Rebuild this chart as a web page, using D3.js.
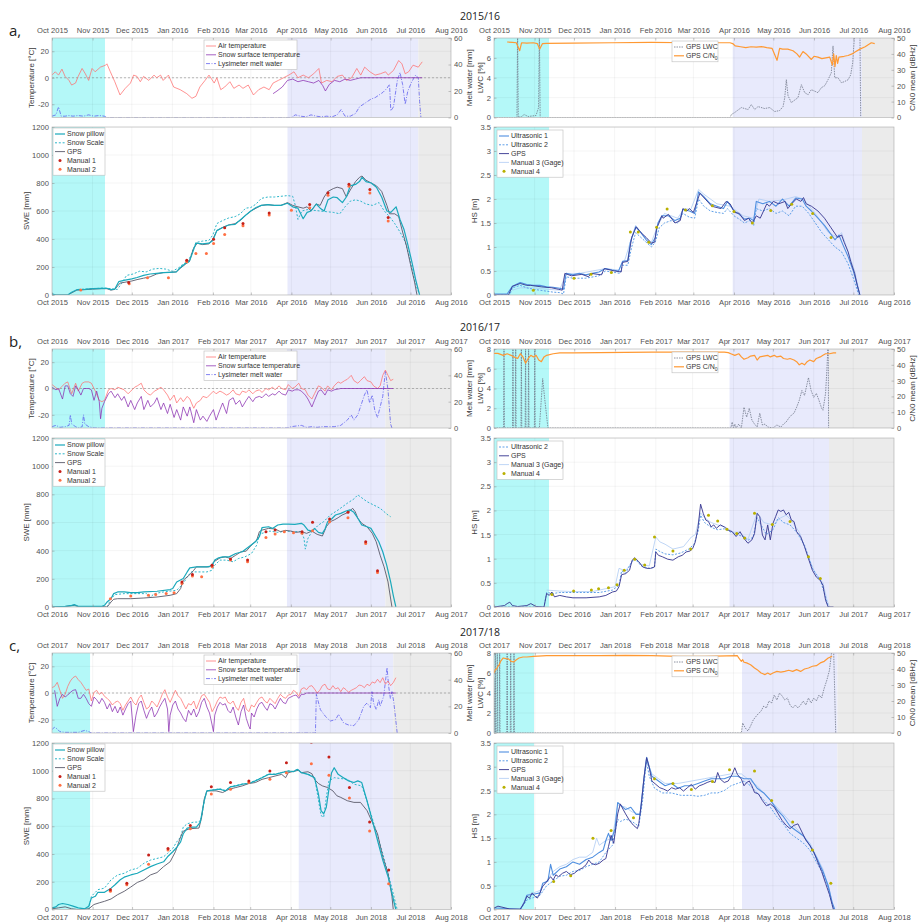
<!DOCTYPE html>
<html>
<head>
<meta charset="utf-8">
<script src="https://cdn.jsdelivr.net/npm/d3@7"></script>
<style>
body { margin: 0; background: #fff; }
text { font-family: "Liberation Sans", Arial, sans-serif; }
.tick text { font-size: 7.6px; fill: #505050; }
.tick line { stroke: #8c8c8c; stroke-width: 0.5; }
.lab { font-size: 8px; fill: #3a3a3a; }
.leg { font-size: 7px; fill: #333; }
.title { font-family: "Open Sans", sans-serif; font-size: 10.5px; fill: #222; }
.letter { font-family: "Open Sans", sans-serif; font-size: 15px; fill: #222; }
</style>
</head>
<body>
<svg id="chart" width="918" height="923"></svg>
<script>
// ---------- tick labels ----------
const months_a = ['Oct 2015','Nov 2015','Dec 2015','Jan 2016','Feb 2016','Mar 2016','Apr 2016','May 2016','Jun 2016','Jul 2016','Aug 2016']
const months_b = ['Oct 2016','Nov 2016','Dec 2016','Jan 2017','Feb 2017','Mar 2017','Apr 2017','May 2017','Jun 2017','Jul 2017','Aug 2017']
const months_c = ['Oct 2017','Nov 2017','Dec 2017','Jan 2018','Feb 2018','Mar 2018','Apr 2018','May 2018','Jun 2018','Jul 2018','Aug 2018']
const tempTicks = [-20, 0, 20]
const meltTicks = [0, 20, 40, 60]
const lwcTicks = [0, 2, 4, 6, 8]
const cn0Ticks = [0, 10, 20, 30, 40, 50]
const sweTicks = [0, 200, 400, 600, 800, 1000, 1200]
const hsTicks = [0, 0.5, 1, 1.5, 2, 2.5, 3, 3.5]

// all series: [day since 1 Oct, value]
// periods: [cyan end, lavender start, lavender end]
const shadeL_a = [40.5, 180, 280]
const shadeR_a = [42, 182, 280.6]
const shadeL_b = [40.4, 179, 254]
const shadeR_b = [41.8, 179, 254.6]
const shadeL_c = [29, 188, 260]
const shadeR_c = [30.4, 188.5, 261]

// ---------- 2015/16 ----------
const airT_a = [[0,2],[2.5,4.5],[5,2],[7.6,6.5],[10,1],[13,-2],[15,-5.5],[18,-4],[20,1],[23,7],[25.5,3],[28,-2],[30.6,7],[33,4.5],[37,8],[41,9.5],[42,10.5],[44.6,4.5],[48,-3],[52,-13],[56,-8],[60,-4],[62.4,2],[65,1],[67.5,-3],[70,1],[74,-2],[78,2],[80,0],[83,2],[85,-2],[89,2],[93,-7],[98,-9],[103,-12],[107,-15.5],[110,-14],[113,-7],[117,-2],[120,2],[124,-4],[126,0],[129,-9],[132,-7],[136,-3],[139,-8],[143,-5.5],[146,-8],[150,-5.5],[154,-13],[158,-9],[162,-7],[166,-9],[169,-4],[173,-2],[177,0],[181,2],[185,4.5],[188,0],[192,2],[196,0],[200,3],[204,7],[206,-4],[210,-2],[214,-3],[218,1],[222,2],[225,-2],[229,0],[233,7],[236,2],[239,8],[243,4.5],[247,2],[251,3],[255,4.5],[257,2],[261,5.5],[265,13],[267.5,10.5],[270,3],[272.6,4.5],[276,9.5],[280,8],[283,12]]
const surfT_a = [[169,-12],[172,-10],[176,-7],[180,-2],[184,-1],[188,-3],[192,-2],[196,-3],[200,-4],[204,-2],[207,-6],[209,-10],[212,-5],[216,-2],[220,-3],[224,-1],[228,-2],[232,-1],[236,0],[283,0]]
const lys_a = [[0,1],[3,2],[5,8],[7,1],[10,1],[13,1.5],[16,1],[20,1.5],[24,1],[28,2],[32,1],[36,1.5],[40,1],[42,0],[183,0],[186,2],[190,1],[194,0.5],[198,2],[202,1],[206,0.5],[210,1],[214,0.5],[218,2],[221,6],[224,1],[228,1],[232,3],[235,8],[238,10],[241,12],[244,14],[247,15],[250,17],[253,19],[256,22],[258,25],[259,5],[261,8],[264,28],[266,34],[268,25],[270,10],[272,20],[275,27],[278,32],[280,30],[281,12],[282,0]]
const lwc_a = [[0,0],[17.5,0],[18,9],[18.5,0],[21,0.1],[23,0.3],[26,0.1],[32,0.2],[34,1],[34.6,9],[35.2,0],[40,0],[180,0],[181,0.3],[183.5,0.5],[188.6,1.0],[193.7,0.8],[196.2,1.3],[198.8,0.8],[201.3,1.1],[206.4,0.9],[210.2,1.0],[214,0.6],[217.8,0.7],[220.4,1.1],[221.7,2.0],[222.9,3.8],[224.2,2.2],[226.7,1.5],[231.8,2.0],[234.4,3.3],[236.9,2.5],[239.5,2.3],[242,2.8],[247,2.5],[249.6,3.0],[252.2,3.2],[254.7,3.8],[257.2,4.5],[258.5,7.2],[259.8,4],[262.3,4.0],[264.9,3.5],[267,3.6],[270,3.8],[272,4.3],[273.5,5.5],[275,8.5],[279,9],[279.6,0]]
const cn0_a = [[10,47.5],[14,47.3],[17,47],[19.6,42],[21,47],[25,46.8],[30,47],[33,46.5],[34.8,43],[37,46.5],[40,46.6],[60,46.8],[90,47],[120,47.2],[150,47],[180,47],[182,46.5],[184,45],[188,44.5],[192,44],[196,44.5],[200,44.3],[204,44.6],[208,44],[212,43.5],[215.8,36],[217.8,43.5],[220,43],[224,43],[228,42],[231,40],[233,38],[235.6,41.5],[238,40],[242,36.5],[244,38.5],[247,38],[250,37],[253,37.5],[256,38],[258,33],[259,40],[260,32],[261,39],[262,34],[263,38],[267,38.5],[270,39],[273,40],[275,41],[279,43],[283,44.5],[287.7,47],[290.3,46.5]]
const pillow_a = [[0,8],[3,0],[12,0],[15,20],[19,38],[25,40],[31,45],[38,48],[42,48],[45,38],[48,42],[51,95],[55,105],[61,115],[65,125],[70,140],[75,150],[80,155],[85,160],[90,162],[95,165],[98,195],[102,225],[105,240],[107,290],[110,370],[115,365],[120,370],[123,390],[126,460],[130,480],[135,500],[140,505],[145,545],[148,570],[152,600],[156,625],[160,640],[165,645],[170,640],[175,640],[180,655],[184,630],[188,620],[192,545],[195,590],[198,600],[202,650],[205,620],[208,600],[211,680],[215,700],[218,695],[222,660],[225,700],[228,780],[232,790],[235,810],[237,840],[240,810],[244,800],[248,770],[252,700],[256,600],[259,590],[263,630],[266,540],[269,470],[272,360],[275,240],[278,110],[281,0]]
const scale_a = [[20,40],[31,45],[40,50],[45,45],[50,40],[53,80],[57,140],[62,150],[67,170],[72,165],[77,185],[82,190],[87,185],[92,170],[97,195],[100,220],[104,240],[107,300],[110,375],[115,385],[120,390],[123,430],[126,510],[130,530],[135,550],[140,560],[144,580],[148,620],[152,625],[156,650],[160,690],[165,700],[170,700],[175,705],[180,710],[184,705],[186,640],[188,540],[191,600],[195,610],[200,605],[205,600],[210,595],[215,590],[220,580],[224,630],[228,670],[232,680],[236,670],[240,650],[245,640],[250,660],[254,600],[258,560],[262,510],[266,450],[270,380],[273,280],[276,150],[279,50],[281,0]]
const gpsSwe_a = [[0,5],[3,0],[12,0],[15,15],[19,35],[25,38],[31,42],[38,45],[42,45],[45,35],[48,40],[52,85],[58,95],[61,100],[65,110],[70,120],[75,130],[80,150],[85,160],[90,162],[95,165],[98,190],[102,220],[105,240],[108,330],[111,370],[115,360],[120,365],[123,400],[126,460],[130,480],[135,500],[140,510],[145,540],[148,570],[152,600],[156,620],[160,640],[165,645],[170,640],[175,640],[180,660],[184,640],[188,630],[192,620],[195,630],[198,600],[202,650],[205,640],[208,700],[211,740],[215,760],[218,770],[222,760],[225,700],[228,750],[232,810],[235,840],[237,850],[240,820],[244,800],[248,780],[252,740],[256,640],[258,580],[262,580],[265,560],[268,450],[271,350],[274,220],[277,100],[279,0]]
const man1_a = [[58.6,90],[103,249],[123.5,399],[132,480],[146,510],[166,586],[197,646],[211,731],[227,791],[243,753],[257,553]]
const man2_a = [[22,36],[59,80],[73,123],[89,123],[103,238],[110,297],[118,297],[123.5,368],[132,432],[146,494],[166,572],[183,605],[197,624],[211,712],[227,776],[243,729],[257,529]]
const us1_a = [[0,0.02],[10,0.02],[14,0.18],[20,0.26],[25,0.22],[30,0.2],[35,0.2],[40,0.17],[45,0.16],[50,0.14],[53,0.12],[55,0.45],[60,0.42],[65,0.45],[70,0.42],[75,0.45],[80,0.48],[85,0.55],[90,0.52],[95,0.5],[98,0.7],[102,0.72],[104,1.1],[108,1.42],[112,1.3],[116,1.15],[120,1.05],[123,1.2],[125,1.5],[128,1.65],[133,1.65],[138,1.55],[142,1.6],[144,1.78],[149,1.75],[153,1.7],[156,2.15],[160,2.05],[165,1.9],[170,1.85],[175,1.8],[178,1.95],[183,1.75],[187,1.68],[191,1.58],[195,1.6],[198,1.55],[200,1.95],[205,1.9],[210,1.95],[215,1.85],[220,2.0],[225,1.85],[230,2.02],[235,2.0],[238,1.85],[242,1.75],[247,1.6],[252,1.45],[256,1.3],[260,1.15],[263,1.25],[266,1.05],[270,0.8],[274,0.5],[277,0.2],[279,0]]
const us2_a = [[0,0],[12,0],[14,0.15],[20,0.2],[25,0.15],[30,0.12],[35,0.1],[40,0.08],[45,0.06],[50,0.05],[53,0.02],[55,0.38],[60,0.35],[70,0.35],[80,0.4],[85,0.5],[90,0.48],[96,0.45],[98,0.62],[102,0.62],[105,1.0],[108,1.3],[112,1.2],[116,1.1],[120,1.0],[123,1.1],[126,1.4],[130,1.5],[135,1.55],[140,1.5],[144,1.7],[149,1.62],[153,1.6],[156,2.0],[160,1.85],[165,1.75],[170,1.72],[175,1.7],[178,1.8],[183,1.65],[187,1.58],[191,1.5],[195,1.55],[198,1.45],[200,1.8],[205,1.75],[210,1.8],[215,1.7],[220,1.75],[225,1.65],[230,1.85],[235,1.85],[240,1.7],[245,1.5],[250,1.3],[255,1.15],[260,1.0],[265,0.9],[270,0.65],[274,0.35],[277,0.1],[278,0]]
const gpsHs_a = [[0,0],[11,0],[14,0.18],[20,0.24],[25,0.2],[28,0.2],[36,0.17],[44,0.15],[49,0.12],[52,0.1],[54,0.45],[59,0.4],[67,0.43],[72,0.38],[74,0.45],[82,0.42],[84,0.55],[89,0.52],[92,0.5],[97,0.48],[98,0.68],[102,0.7],[105,1.2],[108.5,1.42],[112,1.3],[116,1.2],[120,1.08],[122.5,1.1],[124,1.4],[125,1.45],[128,1.65],[129,1.6],[133,1.68],[138,1.5],[142,1.55],[144,1.8],[147,1.75],[149,1.8],[152,1.72],[157,2.12],[161,2.0],[166,1.85],[173,1.8],[177,1.95],[180,1.9],[183.5,1.72],[187,1.7],[191,1.55],[194,1.6],[197,1.5],[200,1.65],[203,1.6],[208,1.9],[210,1.85],[213,1.95],[217,1.9],[222,1.95],[224,1.8],[227,1.9],[230.5,2.0],[234,1.95],[236,2.03],[238,1.9],[242,1.85],[247,1.75],[252,1.6],[257,1.4],[262,1.2],[265,1.25],[267,1.1],[270,0.9],[272,0.7],[275,0.45],[277,0.2],[279,0]]
const man3_a = [[14,0.1],[20,0.15],[30,0.15],[40,0.12],[50,0.1],[55,0.45],[65,0.45],[75,0.5],[85,0.55],[95,0.52],[100,0.75],[105,1.2],[108,1.45],[115,1.2],[120,1.1],[125,1.45],[130,1.7],[140,1.6],[145,1.8],[150,1.78],[156,2.2],[160,2.1],[170,1.9],[180,1.85],[190,1.65],[198,1.6],[202,2.0],[210,1.95],[220,1.98],[230,2.05],[236,2.0],[245,1.7],[255,1.3],[262,1.2],[265,1.3],[270,0.9],[275,0.5],[279,0]]
const man4_a = [[30,0.1],[61,0.35],[74,0.43],[89.5,0.47],[104,1.31],[110,1.31],[118,1.1],[124,1.41],[132,1.79],[146,1.77],[166.5,1.86],[183,1.74],[197,1.5],[211,1.76],[227,1.89],[243,1.7],[257,1.2]]

// ---------- 2016/17 ----------
const airT_b = [[0,3],[5,-1],[10,4],[12,5],[15,-4],[18,4],[20,-2],[23,4],[25,5],[28,5],[30,4],[33,-2],[36,-9],[38,-10],[40,-9],[43,-1],[45,0],[48,-1],[50,1],[55,-1],[58,-4],[60,-2],[63,1],[65,2],[68,4],[70,-1],[73,-4],[75,-5],[78,-2],[80,-1],[83,1],[85,-1],[88,-5],[90,-9],[93,-5],[95,-11],[98,-7],[100,-10],[103,-6],[105,-8],[108,-15],[110,-11],[113,-9],[115,-6],[118,-7],[120,-5],[123,-2],[125,-4],[128,-2],[130,-3],[133,-5],[135,-4],[138,-1],[140,-4],[143,-5],[145,-2],[148,-3],[150,-1],[153,-4],[155,-2],[158,-1],[160,-3],[163,0],[165,-1],[168,1],[170,-1],[173,2],[175,0],[178,-1],[180,3],[183,0],[185,1],[188,4],[190,0],[193,-1],[195,-5],[198,-8],[200,-4],[203,2],[205,1],[208,-2],[210,2],[213,-1],[215,2],[218,5],[220,4],[223,6],[225,7],[228,10],[230,6],[233,4],[235,6],[238,9],[240,6],[243,5],[245,2],[248,0],[250,2],[252,10],[254,14],[256,10],[258,6],[260,7]]
const surfT_b = [[0,1],[3,-1],[5,0],[8,-8],[10,2],[12,2],[14,-4],[16,-6],[18,2],[20,-1],[22,-5],[24,0],[26,0],[28,0],[30,-1],[32,-9],[34,-2],[36,-10],[37,-23],[38,-15],[40,-10],[43,-4],[45,-2],[48,-7],[50,-4],[53,-9],[55,-6],[58,-14],[60,-9],[63,-16],[65,-11],[68,-6],[70,-16],[73,-9],[75,-14],[78,-11],[80,-7],[83,-16],[85,-11],[88,-19],[90,-12],[93,-22],[95,-16],[98,-24],[100,-14],[103,-21],[105,-14],[108,-26],[110,-16],[113,-24],[115,-21],[118,-25],[120,-21],[123,-16],[125,-24],[128,-16],[130,-11],[133,-19],[135,-9],[138,-7],[140,-12],[143,-9],[145,-14],[148,-9],[150,-6],[153,-10],[155,-7],[158,-6],[160,-7],[163,-4],[165,-6],[168,-4],[170,-5],[173,-2],[175,-4],[178,-5],[180,-1],[183,-2],[185,-1],[188,-1],[190,-2],[193,-5],[195,-8],[198,-14],[200,-9],[203,-2],[205,-1],[208,-5],[210,-1],[213,-2],[215,-1],[220,0],[260,0]]
const lys_b = [[0,1],[3,2],[6,0.5],[10,1],[13,2],[14,10],[15,3],[18,1],[20,0],[23,1],[24,10],[25,3],[28,1],[32,0],[180,0],[182,1],[186,1.5],[190,2],[194,0.5],[198,1],[202,0.5],[206,1],[210,1],[215,1],[220,2],[225,6],[228,10],[230,6],[233,10],[235,16],[238,25],[240,29],[242,19],[244,25],[246,13],[248,8],[250,16],[252,24],[254,43],[256,29],[258,3],[259,0]]
const lwc_b = [[0,0],[7.3,0],[7.6,9],[7.9,0],[14.1,0],[14.4,9],[14.7,0],[16.2,0],[16.5,9],[16.8,0],[20.5,0],[20.8,9],[21.1,0],[23.7,0],[24,9],[24.3,0],[26,0],[26.3,9],[26.6,0],[30.7,0],[31,9],[31.3,0],[34.5,0],[36,3],[37,5],[38.5,3],[41,0],[180,0],[181,0.6],[182,0],[183,0.4],[184,0],[186,0.4],[188,0],[190,2.1],[192,1.1],[194,2.0],[196,0.8],[198,0.4],[200,0.1],[202,1.5],[204,0.3],[206,0.4],[208,0.1],[212,0],[215,0.3],[218,0.1],[220,0.4],[222,0.6],[224,1],[226,1.3],[228,1.5],[230,2.1],[232,2.8],[234,3.8],[236,3.3],[238,4.5],[239,5.1],[241,3.8],[243,3.1],[245,3.5],[247,2.8],[249,2.0],[250,1.8],[252,3.5],[253,5.9],[254,9],[254.3,0]]
const cn0_b = [[0,47.2],[3,47.2],[7,46],[10,47],[13,46],[15,45],[18,44],[20,47],[22,45],[24,41],[26,44],[28,46],[30,45],[32,46],[34,43],[36,42],[38,45],[40,46],[45,47],[50,47.5],[60,47.5],[80,47.7],[100,47.9],[120,48],[140,48],[160,48],[175,48],[178,47.7],[180,47],[183,46],[186,47],[188,45],[190,43.5],[193,44.5],[195,45.5],[198,46],[200,43],[202,45],[205,45.5],[208,46],[210,45],[213,46],[215,45],[218,45.5],[220,44],[223,43.5],[225,44],[228,43],[230,42],[232,40],[234,41],[236,40],[238,42],[240,43],[243,42],[245,44],[248,45],[250,46],[252,47],[255,47],[258,47.5],[260,47.5]]
const pillow_b = [[0,0],[10,5],[15,12],[17,17],[20,5],[30,5],[38,5],[40,12],[42,36],[45,60],[47,95],[50,107],[55,107],[60,102],[65,102],[70,107],[80,112],[90,124],[92,131],[95,178],[100,202],[103,249],[105,278],[110,285],[118,285],[122,292],[124,333],[127,349],[130,356],[135,356],[140,380],[145,392],[150,428],[155,463],[158,499],[160,563],[165,570],[168,558],[172,582],[176,589],[180,589],[185,587],[190,594],[192,582],[195,546],[198,539],[200,558],[203,530],[206,523],[208,554],[210,606],[213,625],[216,653],[220,665],[224,682],[227,690],[230,672],[233,630],[236,582],[240,570],[243,558],[246,511],[249,463],[252,392],[255,297],[258,178],[260,83],[262,0]]
const scale_b = [[42,0],[45,59],[48,88],[55,95],[65,95],[72,95],[75,71],[78,95],[85,107],[95,119],[100,166],[103,214],[106,249],[112,249],[118,249],[122,261],[124,297],[128,333],[133,333],[138,321],[142,344],[147,356],[152,380],[156,440],[158,511],[160,523],[166,539],[172,530],[178,539],[185,535],[190,535],[192,487],[193,411],[195,487],[198,535],[203,582],[207,606],[212,653],[218,689],[225,737],[230,767],[233,796],[240,748],[250,701],[256,653],[258,641]]
const gpsSwe_b = [[0,0],[10,3],[17,12],[20,3],[40,3],[42,0],[45,36],[47,55],[50,59],[60,59],[70,64],[80,71],[90,83],[95,95],[98,131],[100,190],[105,230],[108,261],[110,285],[120,285],[122,309],[124,325],[128,349],[132,356],[136,344],[140,368],[144,392],[148,397],[152,440],[156,475],[158,535],[160,546],[165,558],[170,554],[174,535],[178,544],[182,539],[186,530],[190,535],[194,523],[198,539],[202,516],[206,504],[209,570],[212,606],[215,618],[218,634],[221,653],[224,665],[227,682],[229,701],[231,677],[233,630],[236,594],[240,570],[244,523],[247,463],[250,368],[253,285],[256,178],[259,0]]
const man1_b = [[99,178],[107,230],[122,297],[136,340],[149,333],[163,535],[170,546],[190.5,535],[198.5,601],[211.5,625],[225.5,672],[239,463],[248,257]]
const man2_b = [[44.5,59],[60,78],[73.5,83],[79,88],[87,95],[93,102],[99,166],[107,221],[114,214],[122,285],[136,333],[149,321],[163,494],[170,518],[177,535],[184,528],[190.5,523],[198.5,542],[211.5,606],[225.5,634],[239,451],[248,245]]
const us2_b = [[0,0],[38,0],[40,0.3],[45,0.28],[50,0.3],[60,0.3],[70,0.3],[80,0.3],[90,0.35],[95,0.45],[97,0.75],[100,0.7],[105,0.95],[107,1.0],[112,0.85],[118,0.8],[122,0.82],[123,1.2],[126,1.15],[130,1.1],[136,1.08],[142,1.12],[148,1.2],[152,1.3],[155,1.55],[157,1.9],[160,1.75],[165,1.65],[170,1.6],[175,1.62],[180,1.55],[185,1.5],[190,1.45],[193,1.38],[197,1.45],[200,1.85],[203,1.7],[207,1.5],[212,1.6],[216,1.85],[220,1.75],[225,1.7],[230,1.55],[236,1.28],[242,0.8],[248,0.56],[252,0.2],[254,0]]
const gpsHs_b = [[0,0],[8,0.03],[10,0.07],[12,0.1],[14,0.03],[18,0.01],[25,0.03],[28,0.07],[32,0.01],[38,0],[40,0.28],[42,0.24],[44,0.31],[46,0.21],[50,0.24],[55,0.21],[60,0.19],[70,0.19],[80,0.21],[85,0.24],[90,0.31],[93,0.33],[95,0.42],[97,0.67],[100,0.69],[103,0.76],[105,0.97],[107,1.02],[110,0.94],[113,0.83],[116,0.8],[119,0.8],[122,0.83],[123,1.14],[125,1.07],[128,1.04],[132,0.99],[136,0.97],[140,1.04],[143,1.07],[146,1.14],[149,1.16],[151,1.21],[153,1.35],[155,1.63],[157,2.13],[159,1.94],[161,1.8],[163,1.77],[165,1.66],[167,1.7],[169,1.63],[172,1.7],[175,1.66],[178,1.59],[181,1.56],[184,1.46],[187,1.56],[190,1.42],[193,1.32],[196,1.39],[198,1.52],[200,1.94],[202,1.87],[204,1.49],[206,1.39],[208,1.7],[210,1.39],[212,1.73],[214,1.87],[216,2.01],[218,1.98],[220,2.01],[222,1.91],[224,1.96],[226,1.8],[228,1.77],[230,1.56],[233,1.46],[236,1.25],[239,1.0],[242,0.76],[245,0.62],[248,0.55],[250,0.45],[252,0.14],[254,0],[258,0]]
const man3_b = [[40,0.35],[50,0.33],[60,0.32],[75,0.32],[85,0.38],[92,0.42],[95,0.8],[100,0.75],[107,1.0],[112,0.88],[118,0.85],[123,1.45],[126,1.35],[130,1.3],[136,1.2],[144,1.25],[150,1.45],[153,1.5],[157,1.95],[160,1.85],[165,1.75],[170,1.7],[176,1.65],[182,1.55],[186,1.55],[193,1.4],[200,1.95],[205,1.75],[212,1.7],[218,1.85],[222,1.9],[226,1.8],[232,1.55],[238,1.1],[244,0.7],[250,0.5],[253,0.15],[255,0]]
const man4_b = [[44,0.26],[60.5,0.33],[74,0.35],[79.5,0.38],[87,0.4],[93.5,0.46],[99,0.76],[107,0.99],[114.5,0.87],[122,1.45],[136,1.16],[149.5,1.2],[163,1.9],[170,1.78],[177,1.61],[184.5,1.52],[190.5,1.43],[198,1.94],[211.5,1.71],[225,1.77],[239,1.04],[248,0.59]]

// ---------- 2017/18 ----------
const airT_c = [[0,4],[2,5],[4,8],[6,2],[8,-4],[10,-1],[12,5],[14,9],[16,11.5],[18,12.7],[20,10],[22,8],[24,5],[26,2],[28,3],[30,-6],[32,0.5],[34,2],[36,-1],[38,0.5],[40,-2.5],[42,-4],[44,-6],[46,-9],[48,-7],[50,-6],[52,-8],[54,-13],[56,-9],[58,-6],[60,-3],[62,-7],[64,-9],[66,-4],[68,-1.5],[70,-7],[72,-12],[74,-10.5],[76,-6],[78,-8],[80,-10.5],[82,-6],[84,-1],[86,2.5],[88,-3],[90,-7],[92,-2.5],[94,2],[96,-2],[98,-4],[100,-8],[102,-12],[104,-8],[106,-9],[108,-6],[110,-12],[112,-7],[114,-2],[116,-1],[118,-4],[120,-7],[122,-14],[124,-10.5],[126,-6],[128,-3],[130,-4],[132,-3],[134,-7],[136,-8],[138,-6],[140,-10.5],[142,-13],[144,-7],[146,-4],[148,-12],[150,-14],[152,-9],[154,-10.5],[156,-7],[158,-4],[160,-3],[162,-6],[164,-7.5],[166,-4],[168,-6],[170,-8],[172,-4],[174,-1],[176,-3],[178,-4],[180,-1.5],[182,-1],[184,2],[186,0.5],[188,-2.5],[190,3],[192,4],[194,2.5],[196,5],[198,5.5],[200,3],[202,0],[204,2],[206,5.5],[208,6.6],[210,3],[212,2.5],[214,5.5],[216,3],[218,4],[220,1],[222,4],[224,2.5],[226,0.5],[228,2],[230,3],[232,4],[234,6],[236,5.5],[238,4],[240,6.6],[242,5.5],[244,8.3],[246,7.4],[248,10.3],[250,7.8],[252,11.5],[254,6.6],[256,9],[258,5.5],[260,7.8],[262,11.5]]
const surfT_c = [[2,2],[4,-10],[6,-4],[8,-1],[10,-3],[12,-1.5],[14,0.5],[16,2],[18,2.5],[20,-4],[22,-4],[24,-1],[26,-4],[28,-8],[30,-10],[32,-3],[34,-5],[36,-8],[38,-4],[40,-7],[42,-12],[44,-8],[46,-14],[48,-10],[50,-15],[52,-10.5],[54,-16.6],[56,-12],[58,-8],[60,-6],[62,-29],[64,-16.6],[66,-8],[68,-6],[70,-13],[72,-19],[74,-14],[76,-10.5],[78,-18],[80,-15],[82,-10.5],[84,-7],[86,-4],[88,-12],[89,-29],[90,-16.6],[92,-9],[94,-6],[96,-12],[98,-15],[100,-19],[102,-21.5],[104,-13],[106,-16.6],[108,-12],[110,-18],[112,-14],[114,-7],[116,-4],[118,-10.5],[120,-15],[122,-24],[123,-29],[124,-16.6],[126,-10.5],[128,-7],[130,-9],[132,-8],[134,-13],[136,-15],[138,-10.5],[140,-18],[142,-24],[144,-14],[146,-9],[148,-19],[150,-25],[151,-27],[152,-15],[154,-18],[156,-12],[158,-8],[160,-7],[162,-10.5],[164,-13],[166,-8],[168,-9],[170,-12],[172,-8],[174,-4],[176,-7],[178,-8],[180,-4],[182,-3],[184,-2],[186,-1.5],[188,-4],[190,-1],[192,-1],[194,0],[262,0]]
const lys_c = [[0,2.5],[2,4.5],[4,3],[6,1],[10,0.5],[20,0.5],[25,2],[28,1],[30,0],[200,0],[200.7,0],[201.4,29],[204.5,17.5],[208.3,12.5],[212,9],[216,10],[218.4,14],[222.2,7.5],[226,6],[230,5.5],[233.7,10],[236,16],[237.5,20],[240,22.5],[242.6,19],[243.8,31],[245,22.5],[247,17.5],[249,25],[250,20],[252.7,27.5],[255.3,49],[256.5,35],[257.8,26],[259,31],[260.3,24],[261.6,12.5],[263,0]]
const lwc_c = [[0,5.5],[0.7,0],[1,9],[1.3,0],[2.2,0],[2.5,9],[2.8,0],[4,0],[4.3,9],[4.6,0],[9.7,0],[10,9],[10.3,0],[12.4,0],[12.7,9],[13,0],[14.9,0],[15.2,9],[15.5,0],[30,0],[188,0],[189,1],[191,0.5],[193,0.2],[195,0.7],[197,1.3],[200,1.8],[203,2.2],[205,2.7],[207,2.5],[209,3.2],[211,3.0],[213,3.8],[215,3.3],[217,4.0],[219,3.7],[221,3.3],[223,3.5],[225,2.8],[227,2.5],[229,2.8],[231,2.5],[233,2.8],[235,3.2],[237,2.8],[239,3.5],[241,3.0],[243,3.5],[245,3.2],[247,3.8],[249,3.5],[251,4.5],[253,5.3],[255,6.3],[256,7.5],[257,8.5],[258,9],[259.7,0]]
const cn0_c = [[0,37.5],[1,39.6],[2,40],[3,41.7],[4,42.7],[5,44.8],[7,46.9],[9,46.5],[11,46.3],[13,44.8],[15,44.4],[17,45.8],[19,46.9],[22,47.5],[25,47.5],[30,47.9],[40,48.3],[60,48.3],[80,48.3],[100,48.5],[120,48.3],[140,47.9],[160,47.9],[185,48.3],[186,46.9],[188,44.8],[189,45.8],[190,44.2],[192,43.8],[195,42.7],[198,40.6],[200,39.6],[203,37.5],[206,36.5],[208,37.5],[210,36.5],[212,37.5],[215,38.5],[218,38.1],[221,38.5],[224,39.2],[227,38.5],[230,39.6],[233,38.5],[236,40],[239,40.6],[242,41.7],[245,42.1],[248,43.8],[251,44.8],[254,46.9],[257,47.9]]
const pillow_c = [[0,12],[3,19],[5,36],[8,43],[12,36],[16,24],[20,12],[25,5],[28,24],[30,83],[33,95],[35,124],[40,124],[45,154],[48,178],[52,214],[55,233],[60,249],[65,261],[70,285],[75,309],[80,328],[85,344],[88,380],[92,416],[95,447],[98,487],[100,546],[103,587],[107,594],[110,594],[113,630],[116,784],[118,855],[122,860],[128,867],[132,855],[136,884],[140,891],[145,903],[150,908],[155,927],[160,950],[165,974],[170,974],[175,986],[180,998],[184,993],[187,1010],[190,986],[195,974],[200,950],[203,832],[205,713],[207,689],[209,737],[211,867],[213,986],[215,1022],[218,974],[222,950],[226,927],[230,915],[233,927],[236,915],[240,784],[244,642],[248,499],[252,356],[256,238],[259,119],[261,36],[262,0]]
const scale_c = [[28,0],[30,95],[35,143],[40,154],[45,214],[50,249],[55,261],[60,285],[65,297],[70,333],[75,356],[80,368],[85,380],[88,404],[92,440],[95,487],[98,523],[100,594],[103,618],[108,630],[112,630],[114,665],[116,784],[118,855],[120,858],[128,870],[132,858],[136,886],[140,893],[145,905],[150,910],[155,930],[160,952],[165,976],[170,976],[175,988],[180,1000],[184,995],[187,1012],[190,988],[195,976],[200,955],[205,677],[207,665],[209,808],[211,927],[215,950],[225,938],[230,903],[236,891],[240,784],[246,594],[252,404],[258,190],[263,0]]
const gpsSwe_c = [[0,5],[5,12],[10,19],[15,5],[20,0],[28,5],[32,36],[36,48],[40,59],[45,76],[50,107],[55,131],[60,162],[65,195],[70,214],[75,249],[80,266],[85,309],[90,344],[94,416],[98,523],[100,565],[105,582],[112,587],[114,665],[116,796],[118,855],[125,855],[130,843],[135,867],[140,879],[145,891],[150,908],[155,915],[160,938],[165,950],[170,962],[175,974],[178,950],[180,986],[185,998],[188,1003],[190,986],[195,993],[198,979],[200,938],[203,908],[206,891],[210,879],[214,855],[217,820],[220,808],[225,784],[230,772],[235,772],[240,713],[244,630],[248,546],[252,380],[256,261],[259,95],[260,0]]
const man1_c = [[44.5,143],[57,190],[73.6,392],[88.4,440],[105.4,606],[121.4,884],[136,915],[150,927],[166,998],[178.6,1057],[197.6,1205],[211,1100],[226.6,879],[242,630],[256.5,285]]
const man2_c = [[44.5,131],[57,178],[73.6,326],[88.4,428],[105.4,582],[121.4,832],[136,867],[150,915],[166,938],[178.6,986],[197.6,1050],[211,967],[226.6,803],[242,565],[256.5,185]]
const us1_c = [[0,0.03],[10,0.02],[20,0],[23,0.15],[25,0.3],[30,0.32],[35,0.35],[37,0.55],[41,0.6],[43,0.95],[45,0.72],[50,0.85],[55,0.9],[60,1.0],[65,0.95],[70,1.05],[75,1.1],[80,1.2],[83,1.25],[85,1.45],[87,1.6],[89,1.45],[92,1.7],[94,2.25],[96,2.2],[100,2.1],[104,2.15],[108,2.0],[111,2.0],[113,2.5],[115,3.0],[116,3.2],[118,3.0],[120,2.8],[125,2.7],[130,2.6],[135,2.65],[140,2.55],[145,2.6],[150,2.6],[155,2.65],[160,2.7],[165,2.75],[170,2.75],[175,2.75],[180,2.8],[185,2.8],[190,2.75],[195,2.75],[200,2.55],[205,2.45],[210,2.3],[215,2.1],[220,1.95],[225,1.75],[230,1.65],[235,1.55],[240,1.35],[245,1.1],[250,0.8],[254,0.5],[257,0.15],[259,0]]
const us2_c = [[20,0],[25,0.2],[30,0.25],[35,0.3],[40,0.5],[45,0.6],[50,0.7],[55,0.72],[60,0.8],[65,0.82],[70,0.9],[75,0.95],[80,1.0],[85,1.2],[90,1.35],[94,1.9],[96,1.85],[100,1.9],[105,1.85],[110,1.75],[113,2.3],[115,2.9],[116,3.1],[118,2.8],[122,2.55],[128,2.45],[135,2.45],[142,2.4],[150,2.4],[155,2.38],[160,2.4],[165,2.45],[170,2.45],[175,2.5],[180,2.6],[185,2.65],[190,2.7],[195,2.6],[200,2.45],[205,2.3],[210,2.15],[215,1.95],[220,1.8],[225,1.6],[230,1.5],[235,1.4],[240,1.25],[245,1.0],[250,0.75],[254,0.45],[257,0.1],[258,0]]
const gpsHs_c = [[0,0.03],[3,0.07],[6,0.05],[9,0.03],[12,0.01],[20,0.01],[23,0.14],[25,0.28],[27,0.24],[29,0.35],[31,0.28],[33,0.24],[35,0.35],[37,0.49],[39,0.55],[41,0.62],[43,0.69],[45,0.62],[47,0.73],[49,0.69],[52,0.76],[55,0.8],[58,0.73],[61,0.76],[64,0.83],[67,0.87],[70,0.94],[72,1.04],[74,0.97],[77,0.94],[80,0.97],[83,1.04],[85,1.07],[87,1.32],[89,1.56],[91,1.39],[94,2.01],[96,2.22],[98,2.11],[100,2.01],[103,1.87],[106,1.77],[109,1.7],[110,1.8],[112,2.22],[114,2.77],[116,3.19],[118,2.98],[120,2.7],[123,2.63],[126,2.56],[129,2.53],[132,2.49],[135,2.56],[138,2.53],[141,2.56],[144,2.49],[147,2.56],[150,2.63],[153,2.53],[156,2.6],[159,2.63],[162,2.67],[165,2.7],[168,2.67],[170,2.88],[172,2.74],[175,2.67],[178,2.7],[181,2.84],[183,2.98],[185,2.84],[188,2.74],[190,2.6],[192,2.67],[194,2.7],[196,2.6],[198,2.46],[201,2.43],[204,2.29],[207,2.18],[210,2.22],[213,2.15],[216,2.01],[219,1.87],[222,1.77],[225,1.7],[228,1.77],[231,1.8],[234,1.63],[237,1.46],[240,1.35],[243,1.21],[246,1.0],[249,0.8],[252,0.55],[255,0.31],[257,0.1],[258,0]]
const man3_c = [[20,0],[25,0.3],[30,0.35],[35,0.4],[40,0.6],[45,0.8],[50,0.9],[55,0.95],[60,1.05],[65,1.1],[70,1.1],[75,1.2],[78,1.5],[80,1.35],[85,1.45],[90,1.5],[94,2.2],[100,2.15],[105,2.05],[111,2.0],[114,2.8],[116,3.15],[120,2.85],[125,2.75],[130,2.65],[140,2.65],[150,2.7],[160,2.75],[170,2.8],[180,2.85],[188,2.85],[195,2.7],[200,2.6],[210,2.3],[220,2.0],[230,1.7],[240,1.4],[250,0.85],[255,0.4],[258,0]]
const man4_c = [[45.3,0.59],[58.3,0.71],[75.2,1.5],[89,1.66],[106,1.93],[122,2.75],[136,2.65],[150,2.52],[166,2.69],[179,2.94],[198,2.91],[211,2.29],[227,1.84],[242,1.25],[256,0.55]]

// ---------- styles ----------
const st = {
  airT:   { color: '#ff6f6f', width: 0.75 },
  surfT:  { color: '#8a2db0', width: 0.75 },
  lys:    { color: '#5a5aee', width: 0.75, dash: '4,1.5,1,1.5' },
  lwc:    { color: '#6e7688', width: 0.8, dash: '1.5,1' },
  cn0:    { color: '#ff9933', width: 1.2 },
  pillow: { color: '#1aa9bb', width: 1.2 },
  scale:  { color: '#2cb6c9', width: 1, dash: '2,1.8' },
  gpsSwe: { color: '#5a5a6a', width: 0.9 },
  man1:   { color: '#c62019', dot: true },
  man2:   { color: '#ff7043', dot: true },
  us1:    { color: '#4f8fe0', width: 1.1 },
  us2:    { color: '#5f9fe8', width: 1, dash: '2,1.5' },
  gpsHs:  { color: '#3d3d95', width: 0.95 },
  man3:   { color: '#aecbf4', width: 0.8 },
  man4:   { color: '#b9b000', dot: true }
}

const seasons = [
  { title: '2015/16', letter: 'a,', year: 2015, months: months_a, shadeL: shadeL_a, shadeR: shadeR_a,
    airT: airT_a, surfT: surfT_a, lys: lys_a, lwc: lwc_a, cn0: cn0_a,
    pillow: pillow_a, scale: scale_a, gpsSwe: gpsSwe_a, man1: man1_a, man2: man2_a,
    us1: us1_a, us2: us2_a, gpsHs: gpsHs_a, man3: man3_a, man4: man4_a },
  { title: '2016/17', letter: 'b,', year: 2016, months: months_b, shadeL: shadeL_b, shadeR: shadeR_b,
    airT: airT_b, surfT: surfT_b, lys: lys_b, lwc: lwc_b, cn0: cn0_b,
    pillow: pillow_b, scale: scale_b, gpsSwe: gpsSwe_b, man1: man1_b, man2: man2_b,
    us1: null, us2: us2_b, gpsHs: gpsHs_b, man3: man3_b, man4: man4_b },
  { title: '2017/18', letter: 'c,', year: 2017, months: months_c, shadeL: shadeL_c, shadeR: shadeR_c,
    airT: airT_c, surfT: surfT_c, lys: lys_c, lwc: lwc_c, cn0: cn0_c,
    pillow: pillow_c, scale: scale_c, gpsSwe: gpsSwe_c, man1: man1_c, man2: man2_c,
    us1: us1_c, us2: us2_c, gpsHs: gpsHs_c, man3: man3_c, man4: man4_c }
]

// ---------- layout ----------
const LEFT = [52, 451]
const RIGHT = [494, 894]
const layout = [
  { top: [38, 117.5], bot: [127, 295], title: 20, letter: 36 },
  { top: [349, 428], bot: [438, 607], title: 331, letter: 347 },
  { top: [653, 733], bot: [743, 909.5], title: 636, letter: 651 }
]
const DAY = 86400000

const svg = d3.select('#chart')
let clipN = 0

function makeAxes(xr, yr, year) {
  const t0 = new Date(Date.UTC(year, 9, 1))
  const t1 = new Date(Date.UTC(year + 1, 7, 1))
  const xs = d3.scaleUtc().domain([t0, t1]).range(xr)
  const id = 'clip' + (clipN++)
  svg.append('clipPath').attr('id', id).append('rect')
    .attr('x', xr[0]).attr('y', yr[0]).attr('width', xr[1] - xr[0]).attr('height', yr[1] - yr[0])
  const g = svg.append('g').attr('clip-path', `url(#${id})`)
  return { xs, t0, t1, g, x0: xr[0], x1: xr[1], y0: yr[0], y1: yr[1],
           x: d => xs(new Date(t0.getTime() + d * DAY)) }
}

function shade(A, s) {
  const end = (A.t1 - A.t0) / DAY
  const spans = [[0, s[0], '#b4f8f8'], [s[1], s[2], '#e8eafc'], [s[2], end, '#ebebeb']]
  spans.forEach(([a, b, c]) => {
    A.g.append('rect').attr('x', A.x(a)).attr('y', A.y0)
      .attr('width', A.x(b) - A.x(a)).attr('height', A.y1 - A.y0).attr('fill', c)
  })
}

function grid(A, y, ticks) {
  const months = A.xs.ticks(d3.utcMonth.every(1))
  A.g.selectAll(null).data(months).join('line')
    .attr('x1', d => A.xs(d)).attr('x2', d => A.xs(d)).attr('y1', A.y0).attr('y2', A.y1)
    .attr('stroke', '#000').attr('stroke-opacity', 0.08).attr('stroke-width', 0.6)
  A.g.selectAll(null).data(ticks).join('line')
    .attr('x1', A.x0).attr('x2', A.x1).attr('y1', d => y(d)).attr('y2', d => y(d))
    .attr('stroke', '#000').attr('stroke-opacity', 0.08).attr('stroke-width', 0.6)
}

function drawLine(A, y, data, s) {
  if (!data) return
  A.g.append('path').datum(data)
    .attr('fill', 'none').attr('stroke', s.color).attr('stroke-width', s.width)
    .attr('stroke-dasharray', s.dash || null).attr('stroke-linejoin', 'round')
    .attr('d', d3.line().x(d => A.x(d[0])).y(d => y(d[1])))
}

function drawDots(A, y, data, s) {
  A.g.selectAll(null).data(data).join('circle')
    .attr('cx', d => A.x(d[0])).attr('cy', d => y(d[1])).attr('r', 1.5).attr('fill', s.color)
}

function styleAxis(g) {
  g.select('.domain').remove()
}

function box(A) {
  svg.append('rect').attr('x', A.x0).attr('y', A.y0).attr('width', A.x1 - A.x0).attr('height', A.y1 - A.y0)
    .attr('fill', 'none').attr('stroke', '#b8b8b8').attr('stroke-width', 0.7)
}

function xAxis(A, months, onTop) {
  const ticks = A.xs.ticks(d3.utcMonth.every(1))
  const ax = (onTop ? d3.axisTop(A.xs) : d3.axisBottom(A.xs))
    .tickValues(ticks).tickFormat((d, i) => months[i])
    .tickSizeInner(-2.5).tickSizeOuter(0).tickPadding(5)
  svg.append('g').attr('transform', `translate(0,${onTop ? A.y0 : A.y1})`).call(ax).call(styleAxis)
}

function yAxis(A, y, ticks, side, label, labelX) {
  const ax = (side === 'left' ? d3.axisLeft(y) : d3.axisRight(y))
    .tickValues(ticks).tickFormat(d => String(d))
    .tickSizeInner(-2.5).tickSizeOuter(0).tickPadding(3)
  svg.append('g').attr('transform', `translate(${side === 'left' ? A.x0 : A.x1},0)`).call(ax).call(styleAxis)
  const cy = (A.y0 + A.y1) / 2
  svg.append('text').attr('class', 'lab').attr('text-anchor', 'middle')
    .attr('transform', `translate(${labelX},${cy}) rotate(-90)`).attr('dy', '0.35em')
    .text(label)
}

function legend(x, y, w, entries) {
  const rowH = 8.8
  const g = svg.append('g')
  g.append('rect').attr('x', x).attr('y', y).attr('width', w)
    .attr('height', (entries.length - 1) * rowH + 12)
    .attr('fill', '#fff').attr('stroke', '#bdbdbd').attr('stroke-width', 0.6)
  entries.forEach((e, i) => {
    const cy = y + 6 + i * rowH
    if (e.style.dot) {
      g.append('circle').attr('cx', x + 7).attr('cy', cy).attr('r', 1.5).attr('fill', e.style.color)
    } else {
      g.append('line').attr('x1', x + 2).attr('x2', x + 12).attr('y1', cy).attr('y2', cy)
        .attr('stroke', e.style.color).attr('stroke-width', e.style.width)
        .attr('stroke-dasharray', e.style.dash || null)
    }
    const t = g.append('text').attr('class', 'leg').attr('x', x + 14).attr('y', cy + 2.4)
    t.text(e.label)
    if (e.sub) t.append('tspan').attr('font-size', '5px').attr('dy', '1.5').text(e.sub)
  })
}

function drawSeason(s, L) {
  svg.append('text').attr('class', 'title').attr('x', 480).attr('y', L.title)
    .attr('text-anchor', 'middle').text(s.title)
  svg.append('text').attr('class', 'letter').attr('x', 9).attr('y', L.letter).text(s.letter)

  // temperature / melt water
  const A = makeAxes(LEFT, L.top, s.year)
  const yT = d3.scaleLinear().domain([-30, 30]).range([A.y1, A.y0])
  const yM = d3.scaleLinear().domain([0, 60]).range([A.y1, A.y0])
  shade(A, s.shadeL)
  grid(A, yT, tempTicks)
  A.g.append('line').attr('x1', A.x0).attr('x2', A.x1).attr('y1', yT(0)).attr('y2', yT(0))
    .attr('stroke', '#8a8a8a').attr('stroke-width', 0.6).attr('stroke-dasharray', '2,2')
  drawLine(A, yM, s.lys, st.lys)
  drawLine(A, yT, s.airT, st.airT)
  drawLine(A, yT, s.surfT, st.surfT)
  box(A)
  xAxis(A, s.months, true)
  yAxis(A, yT, tempTicks, 'left', 'Temperature [°C]', 31)
  yAxis(A, yM, meltTicks, 'right', 'Melt water [mm]', 469)
  legend(204, A.y0 + 2, 93, [
    { label: 'Air temperature', style: st.airT },
    { label: 'Snow surface temperature', style: st.surfT },
    { label: 'Lysimeter melt water', style: st.lys }
  ])

  // LWC / C/N0
  const B = makeAxes(RIGHT, L.top, s.year)
  const yL = d3.scaleLinear().domain([0, 8]).range([B.y1, B.y0])
  const yC = d3.scaleLinear().domain([0, 50]).range([B.y1, B.y0])
  shade(B, s.shadeR)
  grid(B, yL, lwcTicks)
  drawLine(B, yL, s.lwc, st.lwc)
  drawLine(B, yC, s.cn0, st.cn0)
  box(B)
  xAxis(B, s.months, true)
  yAxis(B, yL, lwcTicks, 'left', 'LWC [%]', 480)
  yAxis(B, yC, cn0Ticks, 'right', 'C/N0 mean [dBHz]', 912)
  legend(672, B.y0 + 3, 46, [
    { label: 'GPS LWC', style: st.lwc },
    { label: 'GPS C/N', sub: '0', style: st.cn0 }
  ])

  // SWE
  const C = makeAxes(LEFT, L.bot, s.year)
  const yS = d3.scaleLinear().domain([0, 1200]).range([C.y1, C.y0])
  shade(C, s.shadeL)
  grid(C, yS, sweTicks)
  drawLine(C, yS, s.scale, st.scale)
  drawLine(C, yS, s.gpsSwe, st.gpsSwe)
  drawLine(C, yS, s.pillow, st.pillow)
  drawDots(C, yS, s.man2, st.man2)
  drawDots(C, yS, s.man1, st.man1)
  box(C)
  xAxis(C, s.months, false)
  yAxis(C, yS, sweTicks, 'left', 'SWE [mm]', 26)
  legend(53, C.y0 + 1, 52, [
    { label: 'Snow pillow', style: st.pillow },
    { label: 'Snow Scale', style: st.scale },
    { label: 'GPS', style: st.gpsSwe },
    { label: 'Manual 1', style: st.man1 },
    { label: 'Manual 2', style: st.man2 }
  ])

  // HS
  const D = makeAxes(RIGHT, L.bot, s.year)
  const yH = d3.scaleLinear().domain([0, 3.5]).range([D.y1, D.y0])
  shade(D, s.shadeR)
  grid(D, yH, hsTicks)
  drawLine(D, yH, s.man3, st.man3)
  drawLine(D, yH, s.us2, st.us2)
  drawLine(D, yH, s.us1, st.us1)
  drawLine(D, yH, s.gpsHs, st.gpsHs)
  drawDots(D, yH, s.man4, st.man4)
  box(D)
  xAxis(D, s.months, false)
  yAxis(D, yH, hsTicks, 'left', 'HS [m]', 474)
  const hsLeg = []
  if (s.us1) hsLeg.push({ label: 'Ultrasonic 1', style: st.us1 })
  hsLeg.push({ label: 'Ultrasonic 2', style: st.us2 })
  hsLeg.push({ label: 'GPS', style: st.gpsHs })
  hsLeg.push({ label: 'Manual 3 (Gage)', style: st.man3 })
  hsLeg.push({ label: 'Manual 4', style: st.man4 })
  legend(497, D.y0 + 3, 66, hsLeg)
}

seasons.forEach((s, i) => drawSeason(s, layout[i]))
</script>
</body>
</html>
